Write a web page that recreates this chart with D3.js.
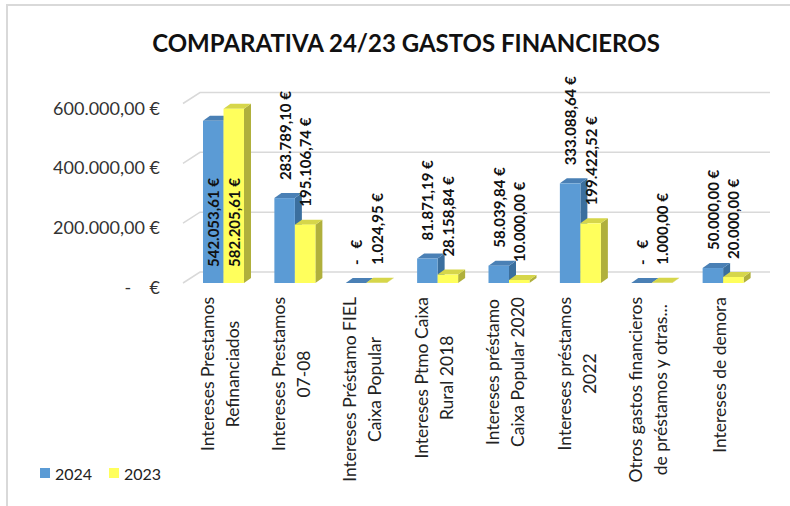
<!DOCTYPE html>
<html>
<head>
<meta charset="utf-8">
<script src="https://cdn.jsdelivr.net/npm/d3@7"></script>
<style>
	body { margin: 0; background: #fff; }
	svg { font-family: Lato, "Open Sans", sans-serif; }
</style>
</head>
<body>
<svg width="790" height="506"></svg>
<script>
const categories = [
	"Intereses Prestamos\nRefinanciados",
	"Intereses Prestamos\n07-08",
	"Intereses Préstamo FIEL\nCaixa Popular",
	"Intereses Ptmo Caixa\nRural 2018",
	"Intereses préstamo\nCaixa Popular 2020",
	"Intereses préstamos\n2022",
	"Otros gastos financieros\nde préstamos y otras...",
	"Intereses de demora"
];
const seriesNames = ["2024", "2023"];
const values2024 = [542053.61, 283789.10, 0, 81871.19, 58039.84, 333088.64, 0, 50000.00];
const values2023 = [582205.61, 195106.74, 1024.95, 28158.84, 10000.00, 199422.52, 1000.00, 20000.00];
const yTicks = [0, 200000, 400000, 600000];

const colors = {
	"2024": { front: "#5b9bd5", top: "#4a80b5", side: "#3b6f9e" },
	"2023": { front: "#ffff5c", top: "#d6d64a", side: "#b0b03c" }
};

const svg = d3.select("svg");

// outer chart border
svg.append("rect")
	.attr("x", 7).attr("y", 5)
	.attr("width", 800).attr("height", 520)
	.attr("fill", "none")
	.attr("stroke", "#d9d9d9")
	.attr("stroke-width", 2);

svg.append("text")
	.attr("x", 406).attr("y", 52)
	.attr("text-anchor", "middle")
	.attr("font-size", 24)
	.attr("font-weight", "bold")
	.attr("fill", "#111")
	.text("COMPARATIVA 24/23 GASTOS FINANCIEROS");

const x = d3.scaleBand().domain(categories).range([184, 755]);
const xs = d3.scaleBand().domain(seriesNames).range([0, 41]);
const y = d3.scaleLinear().domain([0, 600000]).range([283, 103.5]);

// perspective offsets
const wall = { dx: 17, dy: -11 };
const bar = { dx: 7, dy: -5 };

const locale = d3.formatLocale({ decimal: ",", thousands: ".", grouping: [3], currency: ["", " €"] });
const fmt = locale.format(",.2f");
const euro = (v) => v === 0 ? "-   €" : fmt(v) + " €";

// gridlines (front diagonal + back wall)
const grid = svg.append("g").attr("stroke", "#d9d9d9").attr("stroke-width", 1.5).attr("fill", "none");
yTicks.forEach((t) => {
	const yy = y(t);
	grid.append("path")
		.attr("d", `M183,${yy}L${183 + wall.dx},${yy + wall.dy}L770,${yy + wall.dy}`);
});

// y axis labels
svg.append("g").selectAll("text")
	.data(yTicks)
	.enter().append("text")
	.attr("x", 160)
	.attr("y", (d) => y(d) + 4)
	.attr("dominant-baseline", "central")
	.attr("text-anchor", "end")
	.attr("font-size", 18)
	.attr("fill", "#333")
	.attr("xml:space", "preserve")
	.text((d) => d === 0 ? "-    €" : fmt(d) + " €");

// bars
const rows = [];
categories.forEach((c, i) => {
	rows.push({ cat: c, s: "2024", v: values2024[i] });
	rows.push({ cat: c, s: "2023", v: values2023[i] });
});

const bars = svg.append("g");
rows.forEach((d) => {
	const x0 = x(d.cat) + 19 + xs(d.s);
	const w = xs.bandwidth();
	const y0 = y(0), y1 = y(d.v);
	const col = colors[d.s];
	const g = bars.append("g");
	g.append("path").attr("fill", col.side)
		.attr("d", `M${x0 + w},${y1}L${x0 + w + bar.dx},${y1 + bar.dy}L${x0 + w + bar.dx},${y0 + bar.dy}L${x0 + w},${y0}Z`);
	g.append("path").attr("fill", col.top)
		.attr("d", `M${x0},${y1}L${x0 + bar.dx},${y1 + bar.dy}L${x0 + w + bar.dx},${y1 + bar.dy}L${x0 + w},${y1}Z`);
	if (y0 - y1 > 0.5) {
		g.append("rect").attr("fill", col.front)
			.attr("x", x0).attr("y", y1).attr("width", w).attr("height", y0 - y1);
	}
	d.cx = x0 + w / 2;
	d.yTop = y1;
});

// value labels
const labels = svg.append("g");
rows.forEach((d) => {
	const t = labels.append("text")
		.attr("font-size", 15)
		.attr("font-weight", "bold")
		.attr("fill", "#111")
		.attr("dominant-baseline", "central")
		.attr("xml:space", "preserve")
		.text(euro(d.v));
	const len = t.node().getComputedTextLength();
	let startY = d.yTop + bar.dy - 13;
	if (startY - len < 70) startY = y(0) - 16; // does not fit above: inside base
	t.attr("transform", `translate(${d.cx},${startY}) rotate(-90)`);
});

// category labels
const catG = svg.append("g");
categories.forEach((c) => {
	const lines = c.split("\n");
	const cx = x(c) + x.bandwidth() / 2;
	const g = catG.append("g").attr("transform", `translate(${cx},297) rotate(-90)`);
	const texts = lines.map((l, i) => g.append("text")
		.attr("font-size", 17.5)
		.attr("fill", "#222")
		.attr("text-anchor", "middle")
		.attr("dominant-baseline", "central")
		.attr("y", (i - (lines.length - 1) / 2) * 25)
		.text(l));
	const maxW = d3.max(texts, (t) => t.node().getComputedTextLength());
	texts.forEach((t) => t.attr("x", -maxW / 2));
});

// legend
const legend = svg.append("g");
seriesNames.forEach((s, i) => {
	const lx = 40 + i * 69;
	legend.append("rect")
		.attr("x", lx).attr("y", 468)
		.attr("width", 10).attr("height", 10)
		.attr("fill", colors[s].front);
	legend.append("text")
		.attr("x", lx + 15).attr("y", 473)
		.attr("dominant-baseline", "central")
		.attr("font-size", 16)
		.attr("fill", "#222")
		.text(s);
});
</script>
</body>
</html>
